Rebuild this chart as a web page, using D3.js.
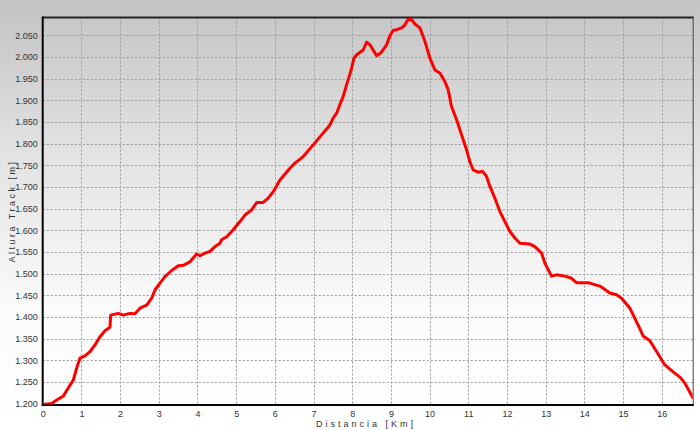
<!DOCTYPE html>
<html><head><meta charset="utf-8">
<script src="https://cdn.jsdelivr.net/npm/d3@7"></script>
<style>html,body{margin:0;padding:0;background:#fff}svg{display:block}</style>
</head><body><svg id="c" width="700" height="430"></svg>
<script>
const distKm = [0.0,0.233,0.362,0.532,0.661,0.791,0.879,0.964,1.093,1.222,1.351,1.481,1.610,1.739,1.757,1.953,2.083,2.256,2.385,2.514,2.687,2.817,2.902,3.031,3.160,3.333,3.504,3.633,3.806,3.979,4.065,4.194,4.323,4.452,4.581,4.625,4.755,4.925,5.098,5.227,5.401,5.530,5.700,5.829,5.959,6.132,6.390,6.519,6.734,6.992,7.209,7.424,7.509,7.597,7.682,7.767,7.855,7.922,7.984,8.044,8.114,8.284,8.372,8.457,8.630,8.734,8.889,8.974,9.059,9.147,9.276,9.362,9.447,9.535,9.620,9.749,9.879,10.008,10.137,10.266,10.395,10.481,10.568,10.698,10.827,10.956,11.041,11.127,11.256,11.370,11.473,11.558,11.687,11.817,11.946,12.075,12.204,12.333,12.592,12.721,12.894,12.979,13.152,13.282,13.496,13.669,13.798,14.098,14.400,14.659,14.832,14.961,15.176,15.390,15.519,15.693,15.866,16.080,16.295,16.468,16.597,16.80];
const altM = [1198,1200,1208,1217,1236,1254,1282,1305,1310,1320,1335,1354,1368,1376,1404,1408,1404,1408,1407,1420,1427,1443,1462,1478,1493,1507,1518,1519,1527,1545,1541,1547,1551,1562,1570,1578,1585,1601,1620,1635,1647,1664,1664,1674,1689,1716,1743,1755,1770,1797,1820,1843,1859,1870,1890,1909,1936,1955,1974,1997,2005,2016,2034,2028,2003,2009,2028,2049,2061,2063,2067,2074,2087,2086,2076,2067,2036,1997,1970,1963,1943,1924,1885,1855,1820,1785,1758,1739,1734,1736,1724,1701,1674,1643,1620,1597,1582,1570,1568,1562,1547,1524,1494,1497,1494,1489,1479,1479,1471,1455,1451,1443,1420,1381,1356,1345,1320,1289,1273,1261,1247,1214];
const xTicks = [0,1,2,3,4,5,6,7,8,9,10,11,12,13,14,15,16];
const yTicks = [1200,1250,1300,1350,1400,1450,1500,1550,1600,1650,1700,1750,1800,1850,1900,1950,2000,2050];
const xTitle = "Distancia [Km]";
const yTitle = "Altura Track [m]";

const svg = d3.select("#c");
const L = 42.7, R = 692.7, T = 17.5, B = 404.5;
const x = d3.scaleLinear().domain([0, 16.8]).range([L, R]);
const y = d3.scaleLinear().domain([1197.7, 2091]).range([B, T]);
const fmt = v => d3.format(",")(v).replace(",", ".");

const defs = svg.append("defs");
const g = defs.append("linearGradient").attr("id","bg").attr("x1",0).attr("y1",0).attr("x2",0).attr("y2",1);
g.append("stop").attr("offset","0").attr("stop-color","#c3c3c3");
g.append("stop").attr("offset","0.35").attr("stop-color","#e2e2e2");
g.append("stop").attr("offset","0.72").attr("stop-color","#fbfbfb");
g.append("stop").attr("offset","1").attr("stop-color","#ffffff");
svg.append("rect").attr("width",700).attr("height",430).attr("fill","url(#bg)");

// grid
const grid = svg.append("g").attr("stroke","#9a9a9a").attr("stroke-width",1).attr("stroke-dasharray","2,2");
grid.selectAll("line.h").data(yTicks).join("line").attr("class","h")
  .attr("x1",L).attr("x2",R).attr("y1",d=>Math.round(y(d))+0.5).attr("y2",d=>Math.round(y(d))+0.5);
grid.selectAll("line.v").data(xTicks.filter(d=>d>0)).join("line").attr("class","v")
  .attr("y1",T).attr("y2",B).attr("x1",d=>Math.round(x(d))+0.5).attr("x2",d=>Math.round(x(d))+0.5);

// axes
const yAxis = d3.axisLeft(y).tickValues(yTicks).tickFormat(fmt).tickSize(0).tickPadding(5);
const xAxis = d3.axisBottom(x).tickValues(xTicks).tickFormat(d3.format("d")).tickSize(0).tickPadding(6);
const ya = svg.append("g").attr("transform",`translate(${L},0)`).call(yAxis);
const xa = svg.append("g").attr("transform",`translate(0,${B})`).call(xAxis);
[ya, xa].forEach(a => {
  a.select(".domain").remove();
  a.selectAll("text").attr("font-family","Liberation Sans, Arial, sans-serif").attr("font-size","9px").attr("fill","#333");
});

// frame
svg.append("line").attr("x1",L).attr("x2",R+1).attr("y1",T).attr("y2",T).attr("stroke","#222").attr("stroke-width",2);
svg.append("line").attr("x1",R+0.5).attr("x2",R+0.5).attr("y1",T).attr("y2",B).attr("stroke","#444").attr("stroke-width",1);
svg.append("line").attr("x1",L).attr("x2",L).attr("y1",T-1).attr("y2",B+1).attr("stroke","#000").attr("stroke-width",2);
svg.append("line").attr("x1",L-1).attr("x2",R+1).attr("y1",B+0.5).attr("y2",B+0.5).attr("stroke","#000").attr("stroke-width",2);

// line
const pts = distKm.map((d,i)=>[d, altM[i]]);
svg.append("defs").append("clipPath").attr("id","clip").append("rect").attr("x",L).attr("y",T).attr("width",R-L).attr("height",B-T);
svg.append("path").datum(pts).attr("clip-path","url(#clip)")
  .attr("d", d3.line().x(d=>x(d[0])).y(d=>y(d[1])))
  .attr("fill","none").attr("stroke","#ff0000").attr("stroke-width",3).attr("stroke-linejoin","round").attr("stroke-linecap","round");

// titles
svg.append("text").attr("x",366).attr("y",427).attr("text-anchor","middle")
  .attr("font-family","Liberation Sans, Arial, sans-serif").attr("font-size","9px").attr("fill","#333")
  .attr("letter-spacing","3px").text(xTitle);
svg.append("text").attr("transform","translate(15,211) rotate(-90)").attr("text-anchor","middle")
  .attr("font-family","Liberation Sans, Arial, sans-serif").attr("font-size","9px").attr("fill","#333")
  .attr("letter-spacing","2.5px").text(yTitle);
</script></body></html>
